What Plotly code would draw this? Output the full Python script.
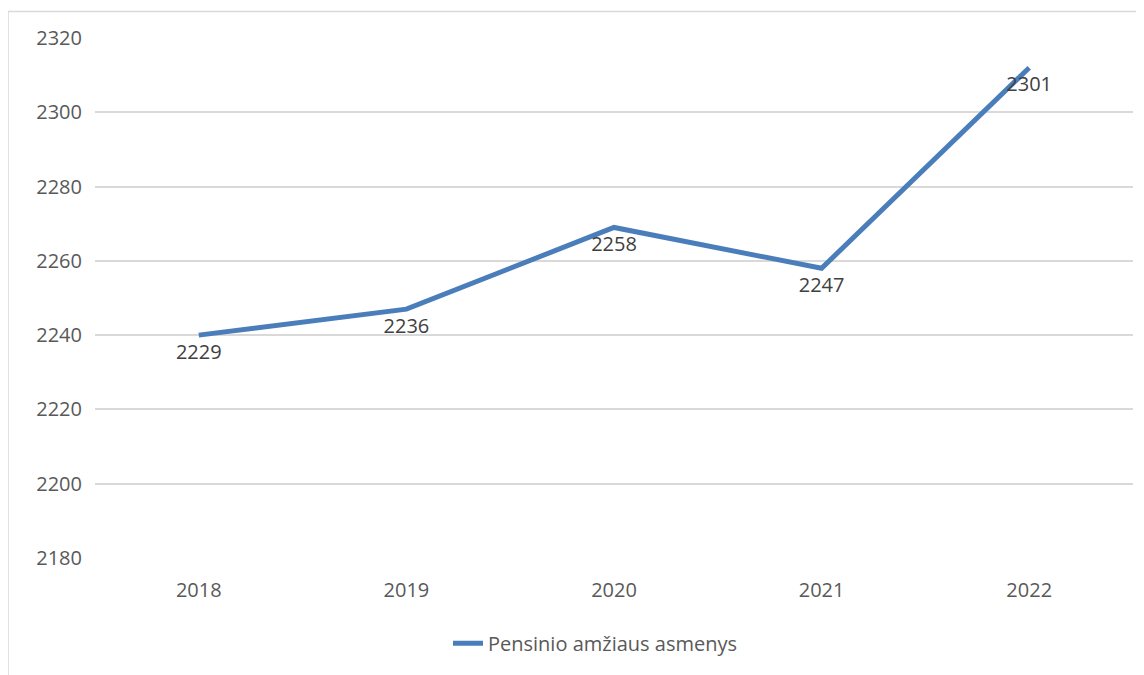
import plotly.graph_objects as go

years = ["2018", "2019", "2020", "2021", "2022"]
values = [2229, 2236, 2258, 2247, 2301]
series_name = "Pensinio amžiaus asmenys"
tick_labels = [2180, 2200, 2220, 2240, 2260, 2280, 2300, 2320]
axis_offset = 11  # axis labels in the reference are shifted relative to data labels

OFF = 8  # page body margin
W, H = 1144 - OFF, 675 - OFF
L = 95 - OFF
R = W - (1133 - OFF)
T = 37.5 - OFF
B = H - (557.7 - OFF)
pw = W - L - R
ph = H - T - B

def px(x):
    return (x - OFF - L) / pw

def py(y):
    return (T + ph - (y - OFF)) / ph

fig = go.Figure()
fig.add_trace(go.Scatter(
    x=years, y=values, mode="lines", name=series_name,
    line=dict(color="#4a7ebb", width=5),
))
fig.add_trace(go.Scatter(
    x=years, y=values, mode="markers+text", showlegend=False, hoverinfo="skip",
    text=[str(v) for v in values], textposition="bottom center",
    textfont=dict(size=20, color="#404040", family="Open Sans"),
    marker=dict(size=12, opacity=0, color="#4a7ebb"),
    cliponaxis=False,
))

font = dict(family="Open Sans", size=20, color="#595959")
fig.update_layout(
    width=W, height=H,
    margin=dict(l=L, r=R, t=T, b=B, pad=0),
    paper_bgcolor="white", plot_bgcolor="white",
    font=font,
    showlegend=True,
    legend=dict(orientation="h", x=px(448), y=py(643),
                xanchor="left", yanchor="middle", font=font,
                itemwidth=30),
    xaxis=dict(type="category", range=[-0.5, len(years) - 0.5],
               showgrid=False, zeroline=False, showline=False,
               ticks="", tickfont=font, ticklabelstandoff=18),
    yaxis=dict(range=[tick_labels[0] - axis_offset, tick_labels[-1] - axis_offset],
               tickvals=[t - axis_offset for t in tick_labels],
               ticktext=[str(t) for t in tick_labels],
               showgrid=True, gridcolor="#d9d9d9", gridwidth=1.5,
               zeroline=False, showline=False, ticks="", tickfont=font,
               ticklabelstandoff=12),
    shapes=[dict(type="rect", xref="paper", yref="paper",
                 x0=px(8), x1=1.3, y0=-0.6, y1=py(11),
                 line=dict(color="#d9d9d9", width=1.5), fillcolor="rgba(0,0,0,0)",
                 layer="below")],
)

fig.write_html("out.html")
